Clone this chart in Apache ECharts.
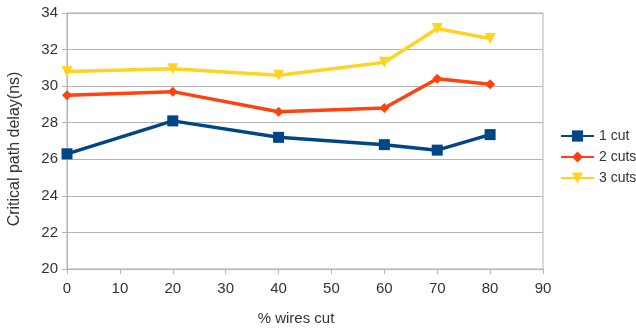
<!DOCTYPE html>
<html><head><meta charset="utf-8">
<script src="https://cdn.jsdelivr.net/npm/echarts@6/dist/echarts.min.js"></script>
<style>html,body{margin:0;padding:0;background:#fff}#c{width:636px;height:328px}</style>
</head><body><div id="c"></div>
<script>
const xValues = [0, 20, 40, 60, 70, 80];
const oneCut = [26.3, 28.1, 27.2, 26.8, 26.5, 27.35];
const twoCuts = [29.5, 29.7, 28.6, 28.8, 30.4, 30.1];
const threeCuts = [30.8, 30.95, 30.6, 31.3, 33.15, 32.6];
const seriesNames = ['1 cut', '2 cuts', '3 cuts'];
const xTitle = '% wires cut';
const yTitle = 'Critical path delay(ns)';

const pair = arr => xValues.map((x, i) => [x, arr[i]]);
const font = 'Liberation Sans, Arial, sans-serif';
const chart = echarts.init(document.getElementById('c'));
chart.setOption({
  animation: false,
  grid: {left: 67, right: 93, top: 13, bottom: 59, outerBoundsMode: 'none', containLabel: false,
         show: true, borderColor: '#b3b3b3', borderWidth: 1},
  legend: {
    orient: 'vertical', left: 560, top: 129, padding: 0, itemWidth: 33, itemHeight: 14, itemGap: 7,
    textStyle: {fontFamily: font, fontSize: 14, color: '#333'},
    data: seriesNames
  },
  xAxis: {
    type: 'value', min: 0, max: 90, interval: 10,
    name: xTitle, nameLocation: 'middle', nameGap: 42,
    nameTextStyle: {fontFamily: font, fontSize: 15, color: '#333', padding: [0, 18, 0, 0]},
    axisLine: {lineStyle: {color: '#b3b3b3'}},
    axisTick: {show: true, length: 5, lineStyle: {color: '#b3b3b3'}},
    axisLabel: {fontFamily: font, fontSize: 15, color: '#333', margin: 12},
    splitLine: {show: false}
  },
  yAxis: {
    type: 'value', min: 20, max: 34, interval: 2,
    name: yTitle, nameLocation: 'middle', nameGap: 44,
    nameTextStyle: {fontFamily: font, fontSize: 16, color: '#333', padding: [0, 16, 0, 0]},
    axisLine: {show: true, lineStyle: {color: '#b3b3b3'}},
    axisTick: {show: true, length: 5, lineStyle: {color: '#b3b3b3'}},
    axisLabel: {fontFamily: font, fontSize: 15, color: '#333', margin: 9},
    splitLine: {show: true, lineStyle: {color: '#b3b3b3'}}
  },
  series: [
    {name: seriesNames[0], type: 'line', data: pair(oneCut), symbol: 'rect', symbolSize: 11,
     lineStyle: {width: 3.5, color: '#004586'}, itemStyle: {color: '#004586'}},
    {name: seriesNames[1], type: 'line', data: pair(twoCuts), symbol: 'diamond', symbolSize: 10,
     lineStyle: {width: 3.5, color: '#ff420e'}, itemStyle: {color: '#ff420e'}},
    {name: seriesNames[2], type: 'line', data: pair(threeCuts), symbol: 'triangle', symbolRotate: 180, symbolSize: 11,
     lineStyle: {width: 3.5, color: '#ffd320'}, itemStyle: {color: '#ffd320'}}
  ]
});
</script></body></html>
